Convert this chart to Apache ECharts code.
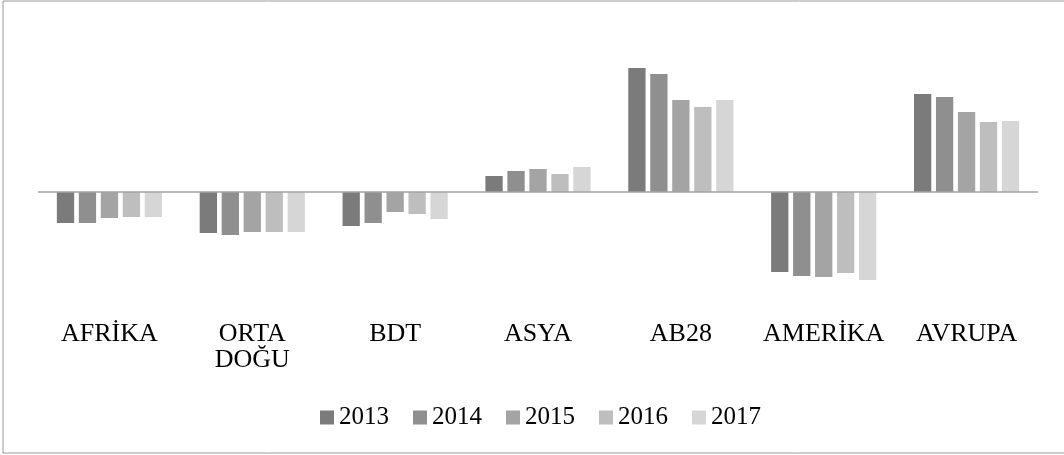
<!DOCTYPE html>
<html>
<head>
<meta charset="utf-8">
<script src="https://cdn.jsdelivr.net/npm/echarts@6/dist/echarts.min.js"></script>
<style>
  html, body { margin: 0; padding: 0; background: #fff; }
  #chart { width: 1064px; height: 455px; }
</style>
</head>
<body>
<div id="chart"></div>
<script>
/* ================================
   DATA
================================ */
const regions = ["AFRİKA", "ORTA DOĞU", "BDT", "ASYA", "AB28", "AMERİKA", "AVRUPA"];
const years = ["2013", "2014", "2015", "2016", "2017"];

const v2013 = [-31, -41, -34, 16, 124, -80, 98];
const v2014 = [-31, -43, -31, 21, 118, -84, 95];
const v2015 = [-26, -40, -20, 23, 92, -85, 80];
const v2016 = [-25, -40, -22, 18, 85, -81, 70];
const v2017 = [-25, -40, -27, 25, 92, -88, 71];

const yearValues = [v2013, v2014, v2015, v2016, v2017];
const yearColors = ["#7b7b7b", "#8f8f8f", "#a4a4a4", "#bebebe", "#d6d6d6"];

/* ================================
   CHART
================================ */
const chart = echarts.init(document.getElementById("chart"));
const FONT = "'Liberation Serif', 'DejaVu Serif', serif";

const series = years.map((y, i) => {
  const s = {
    name: y,
    type: "bar",
    data: yearValues[i],
    barWidth: 17.3,
    barGap: "27%",
    itemStyle: { color: yearColors[i] },
    animation: false
  };
  if (i === 0) {
    // zero line drawn across the plot
    s.markLine = {
      silent: true,
      symbol: ["none", "none"],
      label: { show: false },
      lineStyle: { color: "#a3a3a3", width: 1.5, type: "solid" },
      data: [{ yAxis: 0 }],
      animation: false
    };
  }
  return s;
});

chart.setOption({
  animation: false,
  color: yearColors,
  grid: { left: 38, right: 26, top: 42, bottom: 153 },
  xAxis: {
    type: "category",
    data: regions,
    axisLine: { show: false, onZero: false },
    axisTick: { show: false },
    axisLabel: {
      margin: 19,
      fontFamily: FONT,
      fontSize: 26,
      lineHeight: 26,
      color: "#000",
      interval: 0,
      formatter: v => v.replace(" ", "\n")
    }
  },
  yAxis: {
    type: "value",
    min: -110,
    max: 150,
    show: false,
    splitLine: { show: false }
  },
  legend: {
    data: years,
    left: 315,
    top: 400,
    icon: "rect",
    itemWidth: 14,
    itemHeight: 14,
    itemGap: 24,
    textStyle: { fontFamily: FONT, fontSize: 25, color: "#000" }
  },
  graphic: [{
    type: "rect",
    shape: { x: 3, y: 1, width: 1080, height: 452 },
    style: { fill: "none", stroke: "#9a9a9a", lineWidth: 1 },
    silent: true
  }],
  series: series
});
</script>
</body>
</html>
